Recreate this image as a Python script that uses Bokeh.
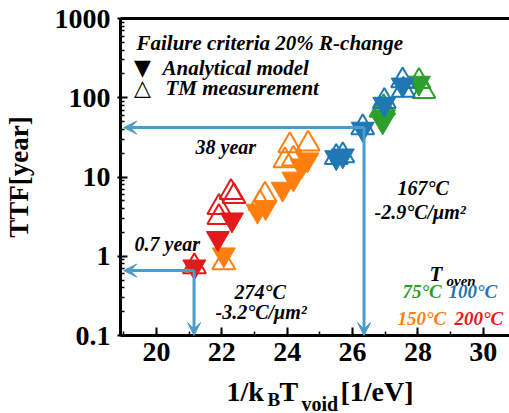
from bokeh.plotting import figure
from bokeh.layouts import column
from bokeh.models import (Label, Arrow, VeeHead, LinearAxis, SingleIntervalTicker,
                          FixedTicker, Range1d, CustomJSTickFormatter)
from bokeh.embed import file_html
from bokeh.resources import INLINE

# ---------------- data ----------------
# 200 C (red)
red_an_x = [21.16, 21.88, 22.31]
red_an_y = [0.74, 1.69, 2.90]
red_tm_x = [21.16, 21.91, 21.91, 22.28, 22.37]
red_tm_y = [0.74, 3.1, 4.15, 6.4, 5.7]
# 150 C (orange)
org_an_x = [22.06, 23.09, 23.34, 23.86, 24.19, 24.44, 24.62]
org_an_y = [1.05, 3.74, 4.15, 7.08, 9.5, 13.9, 16.6]
org_tm_x = [22.06, 23.17, 23.32, 23.93, 24.19, 24.08, 24.64]
org_tm_y = [0.83, 4.66, 5.94, 16.1, 16.9, 24.9, 26.1]
# 100 C (blue)
blu_an_x = [25.50, 25.70, 26.31, 26.97, 27.53]
blu_an_y = [17.7, 18.6, 40.5, 83.6, 146]
blu_tm_x = [25.50, 25.70, 26.31, 26.97, 27.53, 27.55]
blu_tm_y = [17.7, 18.6, 42.0, 90.0, 164, 125]
# 75 C (green)
grn_an_x = [26.92, 26.96, 28.03]
grn_an_y = [50, 58, 154]
grn_tm_x = [26.87, 26.95, 28.03, 28.18]
grn_tm_y = [70, 75, 161, 120]

# guide arrows (corner points)
arrow_x = [26.35, 21.15]
arrow_y = [42.0, 0.66]

x_ticks_interval = 2
y_major_ticks = [0.1, 1, 10, 100, 1000]
y_minor_ticks = [m * d for d in [0.1, 1, 10, 100] for m in range(2, 10)]

RED = "#e31a1c"
ORANGE = "#ff7f0e"
BLUE = "#1f77b4"
GREEN = "#2ca02c"
ARROW = "#4a9ccb"
FONT = "Liberation Serif"

P_H = 377
p = figure(width=509, height=P_H, y_axis_type="log",
           x_range=Range1d(18.9, 30.8), y_range=Range1d(0.1, 1000),
           output_backend="svg", toolbar_location=None,
           min_border_left=118, min_border_right=0, min_border_top=18,
           min_border_bottom=P_H - 335)
p.outline_line_color = None
p.grid.visible = False
p.background_fill_color = "white"

# axes styling
for ax in (p.xaxis[0], p.yaxis[0]):
    ax.axis_line_width = 3
    ax.axis_line_color = "black"
    ax.major_tick_line_width = 2
    ax.minor_tick_line_width = 1.5
    ax.major_label_text_font = FONT
    ax.major_label_text_font_style = "bold"
    ax.major_label_text_font_size = "28px"
    ax.major_label_text_color = "black"

p.xaxis.ticker = SingleIntervalTicker(interval=x_ticks_interval, num_minor_ticks=2)
p.xaxis.major_tick_in = 8
p.xaxis.major_tick_out = 0
p.xaxis.minor_tick_in = 4
p.xaxis.minor_tick_out = 0
p.xaxis.major_label_standoff = 7

p.yaxis.ticker = FixedTicker(ticks=y_major_ticks, minor_ticks=y_minor_ticks)
p.yaxis.formatter = CustomJSTickFormatter(code="return tick.toString();")
p.yaxis.major_tick_in = 7
p.yaxis.major_tick_out = 3
p.yaxis.minor_tick_in = 4
p.yaxis.minor_tick_out = 0
p.yaxis.major_label_standoff = 7
p.yaxis.axis_label = "TTF[year]"
p.yaxis.axis_label_text_font = FONT
p.yaxis.axis_label_text_font_style = "bold"
p.yaxis.axis_label_text_font_size = "27px"
p.yaxis.axis_label_text_color = "black"
p.yaxis.axis_label_standoff = 18

top = LinearAxis(ticker=FixedTicker(ticks=[]), axis_line_width=3,
                 major_label_text_font_size="0px", major_tick_in=0, major_tick_out=0,
                 minor_tick_in=0, minor_tick_out=0)
p.add_layout(top, "above")

# guide arrows
for ax_, ay_ in zip(arrow_x, arrow_y):
    p.add_layout(Arrow(end=VeeHead(size=13, fill_color=ARROW, line_color=ARROW),
                       x_start=ax_, y_start=ay_, x_end=p.x_range.start + 0.1, y_end=ay_,
                       line_color=ARROW, line_width=3))
    p.add_layout(Arrow(end=VeeHead(size=13, fill_color=ARROW, line_color=ARROW),
                       x_start=ax_, y_start=ay_, x_end=ax_, y_end=p.y_range.start,
                       line_color=ARROW, line_width=3))

# data markers
SIZE = 23
for (ax_, ay_, tx, ty, c) in [(grn_an_x, grn_an_y, grn_tm_x, grn_tm_y, GREEN),
                              (blu_an_x, blu_an_y, blu_tm_x, blu_tm_y, BLUE),
                              (org_an_x, org_an_y, org_tm_x, org_tm_y, ORANGE),
                              (red_an_x, red_an_y, red_tm_x, red_tm_y, RED)]:
    p.scatter(tx, ty, marker="triangle", size=SIZE, fill_color="white", fill_alpha=0.0,
              line_color=c, line_width=2)
    p.scatter(ax_, ay_, marker="inverted_triangle", size=SIZE, fill_color=c,
              line_color=c, line_width=1)

# frame origin in canvas pixels (left, bottom)
FL, FB = 118, 335


def lab(fig, text, cx, cy, size, color="black", style="bold italic", align="left",
        baseline="middle", font=FONT, ox=FL, oy=FB):
    fig.add_layout(Label(x=cx - ox, y=oy - cy, x_units="screen", y_units="screen",
                         text=text, text_font=font, text_font_size=f"{size}px",
                         text_font_style=style, text_color=color, text_align=align,
                         text_baseline=baseline))


# in-plot legend / annotations
lab(p, "Failure criteria 20% R-change", 134, 42, 21)
lab(p, "\u25BC", 140, 67, 22, style="normal", align="center", font="DejaVu Sans")
lab(p, "Analytical model", 160, 67, 21)
lab(p, "\u25B3", 140, 87, 22, style="bold", align="center", font="DejaVu Sans")
lab(p, "TM measurement", 163, 87, 21)
lab(p, "38 year", 193, 146, 20)
lab(p, "0.7 year", 132, 243, 20)
lab(p, "274°C", 232, 291, 20)
lab(p, "-3.2°C/μm²", 213, 311, 20)
lab(p, "167°C", 395, 187, 20)
lab(p, "-2.9°C/μm²", 372, 211, 20)
lab(p, "T", 427, 273, 21)
lab(p, "oven", 444, 280, 15)
lab(p, "75°C", 400, 291, 19, color=GREEN)
lab(p, "100°C", 446, 291, 19, color=BLUE)
lab(p, "150°C", 395, 318, 19, color=ORANGE)
lab(p, "200°C", 452, 318, 19, color=RED)

# x-axis title (with subscripts) in a strip below the chart
S_H = 413 - P_H
s = figure(width=509, height=S_H, x_range=Range1d(0, 1), y_range=Range1d(0, 1),
           output_backend="svg", toolbar_location=None,
           x_axis_location=None, y_axis_location=None,
           min_border_left=FL, min_border_right=0, min_border_top=0, min_border_bottom=0)
s.outline_line_color = None
s.grid.visible = False

lab(s, "1/k", 224, 391, 28, style="bold", oy=413)
lab(s, "B", 265, 399, 19, style="bold", oy=413)
lab(s, "T", 277, 391, 28, style="bold", oy=413)
lab(s, "void", 299, 403, 20, style="bold", oy=413)
lab(s, "[1/eV]", 338, 391, 28, style="bold", oy=413)

layout = column(p, s, spacing=0)
open("out.html", "w").write(file_html(layout, INLINE))
